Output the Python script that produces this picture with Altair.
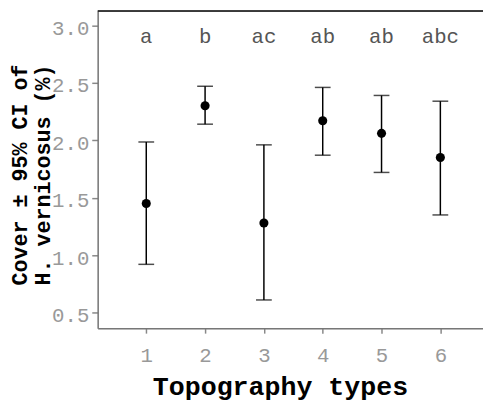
import altair as alt
import pandas as pd

types = [1, 2, 3, 4, 5, 6]
means = [1.45, 2.30, 1.28, 2.17, 2.06, 1.85]
lower = [0.92, 2.14, 0.61, 1.87, 1.72, 1.35]
upper = [1.985, 2.47, 1.96, 2.46, 2.39, 2.34]
letters = ["a", "b", "ac", "ab", "ab", "abc"]
letter_y = [2.90] * 6
y_ticks = [0.5, 1.0, 1.5, 2.0, 2.5, 3.0]

df = pd.DataFrame({"type": types, "mean": means, "lower": lower,
                   "upper": upper, "letter": letters, "ly": letter_y})

FONT = "Liberation Mono"
W, H = 391, 322

xscale = alt.Scale(domain=[0.174, 6.725], nice=False, zero=False)
yscale = alt.Scale(domain=[0.364, 3.126], nice=False, zero=False)

xaxis = alt.Axis(values=types, format="d", title="Topography types",
                 titleFont=FONT, titleFontSize=27, titleFontWeight="bold",
                 titleColor="black", titleX=185, titleY=67,
                 titleBaseline="alphabetic", titleAnchor="start", titleAlign="center",
                 labelFont=FONT, labelFontSize=21, labelColor="#999999",
                 labelPadding=12, tickColor="#888888", tickSize=5, tickWidth=1.5,
                 domainColor="#777777", domainWidth=1.5, grid=False)
yaxis = alt.Axis(values=y_ticks, format=".1f",
                 title=["Cover \u00b1 95% CI of", "H. vernicosus (%)"],
                 titleFont=FONT, titleFontSize=22, titleFontWeight="bold",
                 titleColor="black", titleLineHeight=23.5, titleX=-67, titleY=166,
                 labelFont=FONT, labelFontSize=21, labelColor="#999999",
                 labelPadding=3, labelOffset=3, tickColor="#888888", tickSize=6, tickWidth=1.5,
                 domainColor="#777777", domainWidth=1.5, grid=False)

base = alt.Chart(df)

bars = base.mark_rule(color="black", strokeWidth=1.5).encode(
    x=alt.X("type:Q", scale=xscale, axis=xaxis),
    y=alt.Y("lower:Q", scale=yscale, axis=yaxis),
    y2="upper:Q",
)
caps_lo = base.mark_tick(color="black", orient="horizontal", size=16, thickness=1.5).encode(
    x=alt.X("type:Q", scale=xscale, axis=xaxis),
    y=alt.Y("lower:Q", scale=yscale, axis=yaxis),
)
caps_hi = base.mark_tick(color="black", orient="horizontal", size=16, thickness=1.5).encode(
    x=alt.X("type:Q", scale=xscale, axis=xaxis),
    y=alt.Y("upper:Q", scale=yscale, axis=yaxis),
)
points = base.mark_circle(color="black", size=85, opacity=1).encode(
    x=alt.X("type:Q", scale=xscale, axis=xaxis),
    y=alt.Y("mean:Q", scale=yscale, axis=yaxis),
)
labels = base.mark_text(font=FONT, fontSize=21, color="#555555", baseline="middle").encode(
    x=alt.X("type:Q", scale=xscale, axis=xaxis),
    y=alt.Y("ly:Q", scale=yscale, axis=yaxis),
    text="letter:N",
)
top_line = alt.Chart(pd.DataFrame({"a": [0]})).mark_rule(color="black", strokeWidth=1.5).encode(
    x=alt.value(0), x2=alt.value(W), y=alt.value(0)
)

chart = alt.layer(bars, caps_lo, caps_hi, points, labels, top_line).properties(
    width=W, height=H,
    autosize=alt.AutoSizeParams(type="none"),
    padding={"left": 91, "top": 0, "right": 0, "bottom": 77},
).configure_view(stroke=None).configure(background="white")

chart.save("out.html", embed_options={"renderer": "svg", "actions": False})
